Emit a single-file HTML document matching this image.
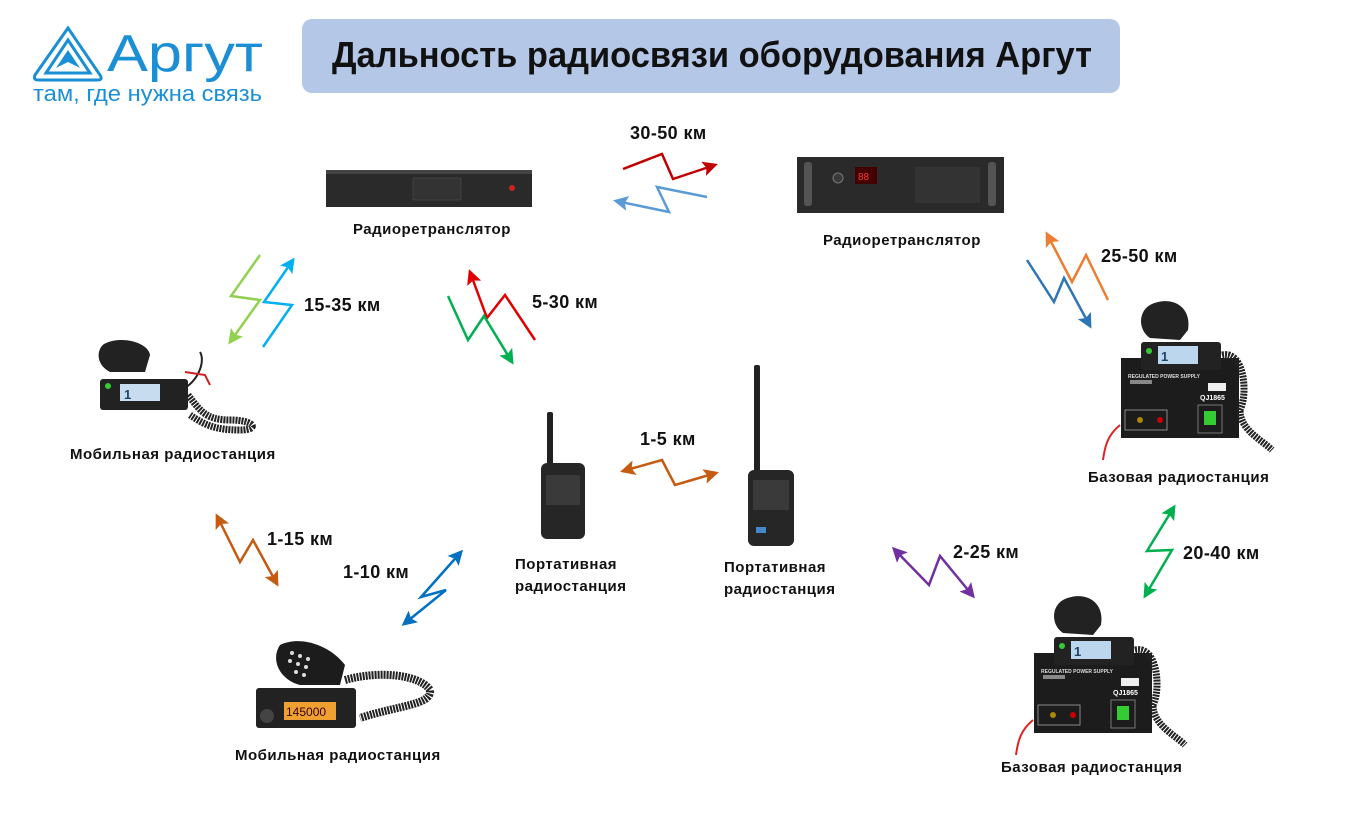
<!DOCTYPE html>
<html><head><meta charset="utf-8"><style>
html,body{margin:0;padding:0;background:#fff;}
body{width:1355px;height:822px;overflow:hidden;position:relative;font-family:"Liberation Sans","DejaVu Sans",sans-serif;}
svg{position:absolute;left:0;top:0;}
</style></head><body>
<svg width="1355" height="822" viewBox="0 0 1355 822" xmlns="http://www.w3.org/2000/svg">
<defs>
<marker id="m" viewBox="0 0 10 10" refX="8" refY="5" markerWidth="6" markerHeight="6" orient="auto-start-reverse" markerUnits="strokeWidth"><path d="M0,0 L10,5 L0,10 L2,5z" fill="context-stroke"/></marker>
<g id="base">
  <path d="M1120,425 C1108,435 1105,445 1103,460" stroke="#d22" stroke-width="2" fill="none"/>
  <rect x="1121" y="358" width="118" height="80" fill="#1c1c1c"/>
  <rect x="1130" y="380" width="22" height="4" fill="#888"/>
  <text x="1128" y="378" font-size="5" fill="#ddd" font-weight="bold">REGULATED POWER SUPPLY</text>
  <text x="1200" y="400" font-size="7" fill="#fff" font-weight="bold">QJ1865</text>
  <rect x="1208" y="383" width="18" height="8" fill="#eee"/>
  <rect x="1125" y="410" width="42" height="20" fill="none" stroke="#888" stroke-width="1"/>
  <circle cx="1140" cy="420" r="3" fill="#a80"/><circle cx="1160" cy="420" r="3" fill="#c00"/>
  <rect x="1198" y="405" width="24" height="28" fill="none" stroke="#777"/>
  <rect x="1204" y="411" width="12" height="14" fill="#3c3"/>
  <rect x="1141" y="342" width="80" height="28" rx="3" fill="#222"/>
  <rect x="1158" y="346" width="40" height="18" fill="#bcd6ee"/>
  <text x="1161" y="361" font-size="13" fill="#246" font-weight="bold">1</text>
  <circle cx="1149" cy="351" r="3" fill="#3c3"/>
  <path d="M1150,305 C1170,295 1192,305 1188,330 L1180,340 L1150,338 C1138,330 1138,312 1150,305z" fill="#222"/>
  <path d="M1222,355 C1245,350 1248,395 1240,410 C1240,430 1262,440 1272,450" stroke="#222" stroke-width="7" stroke-dasharray="2 1" fill="none"/>
</g>
</defs>

<!-- Logo -->
<g fill="none" stroke="#1a8fd6" stroke-width="3">
<path d="M68,28 L35,75 Q33,80 38,80 L98,80 Q103,80 100,75 Z"/>
<path d="M68,40 L46,73 L90,73 Z"/>
</g>
<path d="M68,50 L56,68 L68,62 L80,68 Z" fill="#1a8fd6"/>
<text x="107" y="71" font-size="52" fill="#1a8fd6" textLength="156" lengthAdjust="spacingAndGlyphs">Аргут</text>
<text x="33" y="101" font-size="22" fill="#1a8fd6" textLength="229" lengthAdjust="spacingAndGlyphs">там, где нужна связь</text>

<!-- Title -->
<rect x="302" y="19" width="818" height="74" rx="10" fill="#b4c7e7"/>
<text x="332" y="67" font-size="36" font-weight="bold" fill="#111" textLength="760" lengthAdjust="spacingAndGlyphs">Дальность радиосвязи оборудования Аргут</text>

<!-- Repeater 1 -->
<rect x="326" y="170" width="206" height="37" fill="#2a2a2a"/>
<rect x="326" y="170" width="206" height="4" fill="#444"/>
<rect x="413" y="178" width="48" height="22" fill="#333" stroke="#555" stroke-width="0.5"/>
<circle cx="512" cy="188" r="3" fill="#c22"/>

<!-- Repeater 2 -->
<rect x="797" y="157" width="207" height="56" fill="#2a2a2a"/>
<rect x="804" y="162" width="8" height="44" rx="3" fill="#555"/>
<rect x="988" y="162" width="8" height="44" rx="3" fill="#555"/>
<circle cx="838" cy="178" r="5" fill="#3a3a3a" stroke="#777"/>
<rect x="855" y="167" width="22" height="17" fill="#400"/>
<text x="858" y="180" font-size="10" fill="#f33">88</text>
<rect x="915" y="167" width="65" height="36" fill="#333"/>

<!-- Mobile 1 -->
<path d="M185,388 C200,378 205,360 200,352" stroke="#222" stroke-width="2" fill="none"/>
<path d="M185,372 L205,375 L210,385" stroke="#c22" stroke-width="2" fill="none"/>
<rect x="100" y="379" width="88" height="31" rx="3" fill="#222"/>
<rect x="120" y="384" width="40" height="17" fill="#c8dcf0"/>
<text x="124" y="399" font-size="13" fill="#246" font-weight="bold">1</text>
<circle cx="108" cy="386" r="3" fill="#3c3"/>
<path d="M104,344 C120,335 148,342 150,355 L145,372 L110,372 C96,365 96,350 104,344z" fill="#222"/>
<path d="M188,395 C200,410 205,420 230,420 C255,420 260,430 240,430 C215,430 205,425 190,415" stroke="#222" stroke-width="7" stroke-dasharray="2 1" fill="none"/>

<!-- Mobile 2 -->
<rect x="256" y="688" width="100" height="40" rx="3" fill="#222"/>
<rect x="284" y="702" width="52" height="18" fill="#f0a030"/>
<text x="286" y="716" font-size="12" fill="#301">145000</text>
<circle cx="267" cy="716" r="7" fill="#444"/>
<path d="M280,645 C300,635 330,645 345,665 L340,685 L300,685 C280,680 270,660 280,645z" fill="#1c1c1c"/>
<g fill="#ddd"><circle cx="292" cy="653" r="2"/><circle cx="300" cy="656" r="2"/><circle cx="308" cy="659" r="2"/><circle cx="290" cy="661" r="2"/><circle cx="298" cy="664" r="2"/><circle cx="306" cy="667" r="2"/><circle cx="296" cy="672" r="2"/><circle cx="304" cy="675" r="2"/></g>
<path d="M345,680 C380,670 420,675 430,690 C432,705 400,705 360,718" stroke="#222" stroke-width="8" stroke-dasharray="2 1" fill="none"/>

<!-- Portable 1 -->
<rect x="547" y="412" width="6" height="55" rx="2" fill="#222"/>
<rect x="541" y="463" width="44" height="76" rx="6" fill="#262626"/>
<rect x="546" y="475" width="34" height="30" fill="#3a3a3a"/>

<!-- Portable 2 -->
<rect x="754" y="365" width="6" height="110" rx="2" fill="#222"/>
<rect x="748" y="470" width="46" height="76" rx="6" fill="#262626"/>
<rect x="753" y="480" width="36" height="30" fill="#3a3a3a"/>
<rect x="756" y="527" width="10" height="6" fill="#48c"/>

<!-- Base stations -->
<use href="#base"/>
<use href="#base" transform="translate(-87,295)"/>

<!-- Device labels -->
<g font-size="15" font-weight="bold" fill="#111" letter-spacing="0.5">
<text x="353" y="234">Радиоретранслятор</text>
<text x="823" y="245">Радиоретранслятор</text>
<text x="70" y="459">Мобильная радиостанция</text>
<text x="235" y="760">Мобильная радиостанция</text>
<text x="515" y="569">Портативная</text>
<text x="515" y="591">радиостанция</text>
<text x="724" y="572">Портативная</text>
<text x="724" y="594">радиостанция</text>
<text x="1088" y="482">Базовая радиостанция</text>
<text x="1001" y="772">Базовая радиостанция</text>
</g>

<!-- Bolts -->
<g fill="none" stroke-width="2.5" stroke-linejoin="miter">
<polyline points="623,169 662,154 673,179 715,165" stroke="#c00000" marker-end="url(#m)"/>
<polyline points="707,197 657,187 669,212 616,201" stroke="#5b9bd5" marker-end="url(#m)"/>
<polyline points="260,255 231,296 260,300 230,342" stroke="#92d050" marker-end="url(#m)"/>
<polyline points="263,347 292,305 264,302 293,260" stroke="#00b0f0" marker-end="url(#m)"/>
<polyline points="535,340 505,295 487,318 470,272" stroke="#e00000" marker-end="url(#m)"/>
<polyline points="448,296 468,340 484,316 512,362" stroke="#00b050" marker-end="url(#m)"/>
<polyline points="1108,300 1086,255 1072,282 1047,234" stroke="#ed7d31" marker-end="url(#m)"/>
<polyline points="1027,260 1054,302 1064,278 1090,326" stroke="#2e75b6" marker-end="url(#m)"/>
<polyline points="623,471 662,460 675,485 716,473" stroke="#c55a11" marker-start="url(#m)" marker-end="url(#m)"/>
<polyline points="217,516 240,562 253,540 277,584" stroke="#c55a11" marker-start="url(#m)" marker-end="url(#m)"/>
<polyline points="404,624 446,590 421,597 461,552" stroke="#0070c0" marker-start="url(#m)" marker-end="url(#m)"/>
<polyline points="894,549 929,585 940,556 973,596" stroke="#7030a0" marker-start="url(#m)" marker-end="url(#m)"/>
<polyline points="1174,507 1147,551 1172,550 1145,596" stroke="#00b050" marker-start="url(#m)" marker-end="url(#m)"/>
</g>

<!-- Distance labels -->
<g font-size="18" font-weight="bold" fill="#111" letter-spacing="0.4">
<text x="630" y="139">30-50 км</text>
<text x="304" y="311">15-35 км</text>
<text x="532" y="308">5-30 км</text>
<text x="1101" y="262">25-50 км</text>
<text x="640" y="445">1-5 км</text>
<text x="267" y="545">1-15 км</text>
<text x="343" y="578">1-10 км</text>
<text x="953" y="558">2-25 км</text>
<text x="1183" y="559">20-40 км</text>
</g>
</svg>
</body></html>
